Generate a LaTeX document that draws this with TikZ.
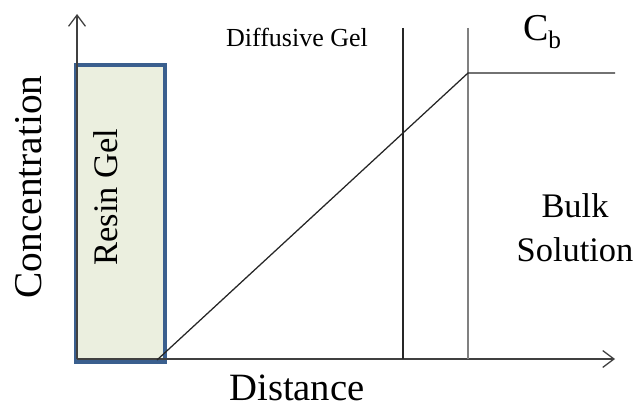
\documentclass[tikz,border=0pt]{standalone}
\usepackage{fontspec}
\setmainfont{Liberation Serif}
\usetikzlibrary{arrows.meta}
\definecolor{gelfill}{HTML}{EBEFDF}
\definecolor{geledge}{HTML}{3A5F8E}

\begin{document}
\begin{tikzpicture}[x=0.025cm, y=-0.025cm,
    axis/.style={draw=black!75, line width=0.9pt, -{Straight Barb[length=8pt,width=12pt]}},
    profile/.style={draw=black!85, line width=0.9pt},
    gelbox/.style={draw=geledge, fill=gelfill, line width=2.6pt, inner sep=0pt, outer sep=0pt,
        minimum width=2.2375cm, minimum height=7.425cm},
    lbl/.style={inner sep=0pt, font=\fontsize{#1}{#1}\selectfont}]
  \useasboundingbox (0,0) rectangle (635,407);
  % resin gel layer
  \node[gelbox] (resin) at (120.25,213.5) {};
  \node[lbl=24.5, rotate=90] (resinlbl) at (106,197) {Resin Gel};
  % axes
  \coordinate (origin) at (77,359);
  \coordinate (ytip) at (77,14);
  \coordinate (xtip) at (615,359);
  \draw[axis] (origin) -- (ytip);
  \draw[axis] (origin) -- (xtip);
  \node[lbl=28, rotate=90] (conc) at (28.5,187) {Concentration};
  \node[lbl=27.5] (dist) at (297,388) {Distance};
  % boundaries of the diffusive gel
  \coordinate (gtop) at (403,28);
  \coordinate (gbot) at (403,359);
  \coordinate (btop) at (468,28);
  \coordinate (bbot) at (468,359);
  \draw[profile] (gtop) -- (gbot);
  \draw[profile, draw=black!50] (btop) -- (bbot);
  % concentration profile
  \coordinate (p0) at (157,360);
  \coordinate (p1) at (468,73);
  \coordinate (p2) at (615,73);
  \draw[profile] (p0) -- (p1) -- (p2);
  % labels
  \node[lbl=18.5] (diffgel) at (297,37) {Diffusive Gel};
  \node[lbl=27] (cb) at (542,32) {C\raisebox{-6pt}{\fontsize{18}{18}\selectfont b}};
  \node[lbl=24.5, align=center] (bulk) at (575,228) {Bulk\\[6.5pt]Solution};
\end{tikzpicture}
\end{document}
